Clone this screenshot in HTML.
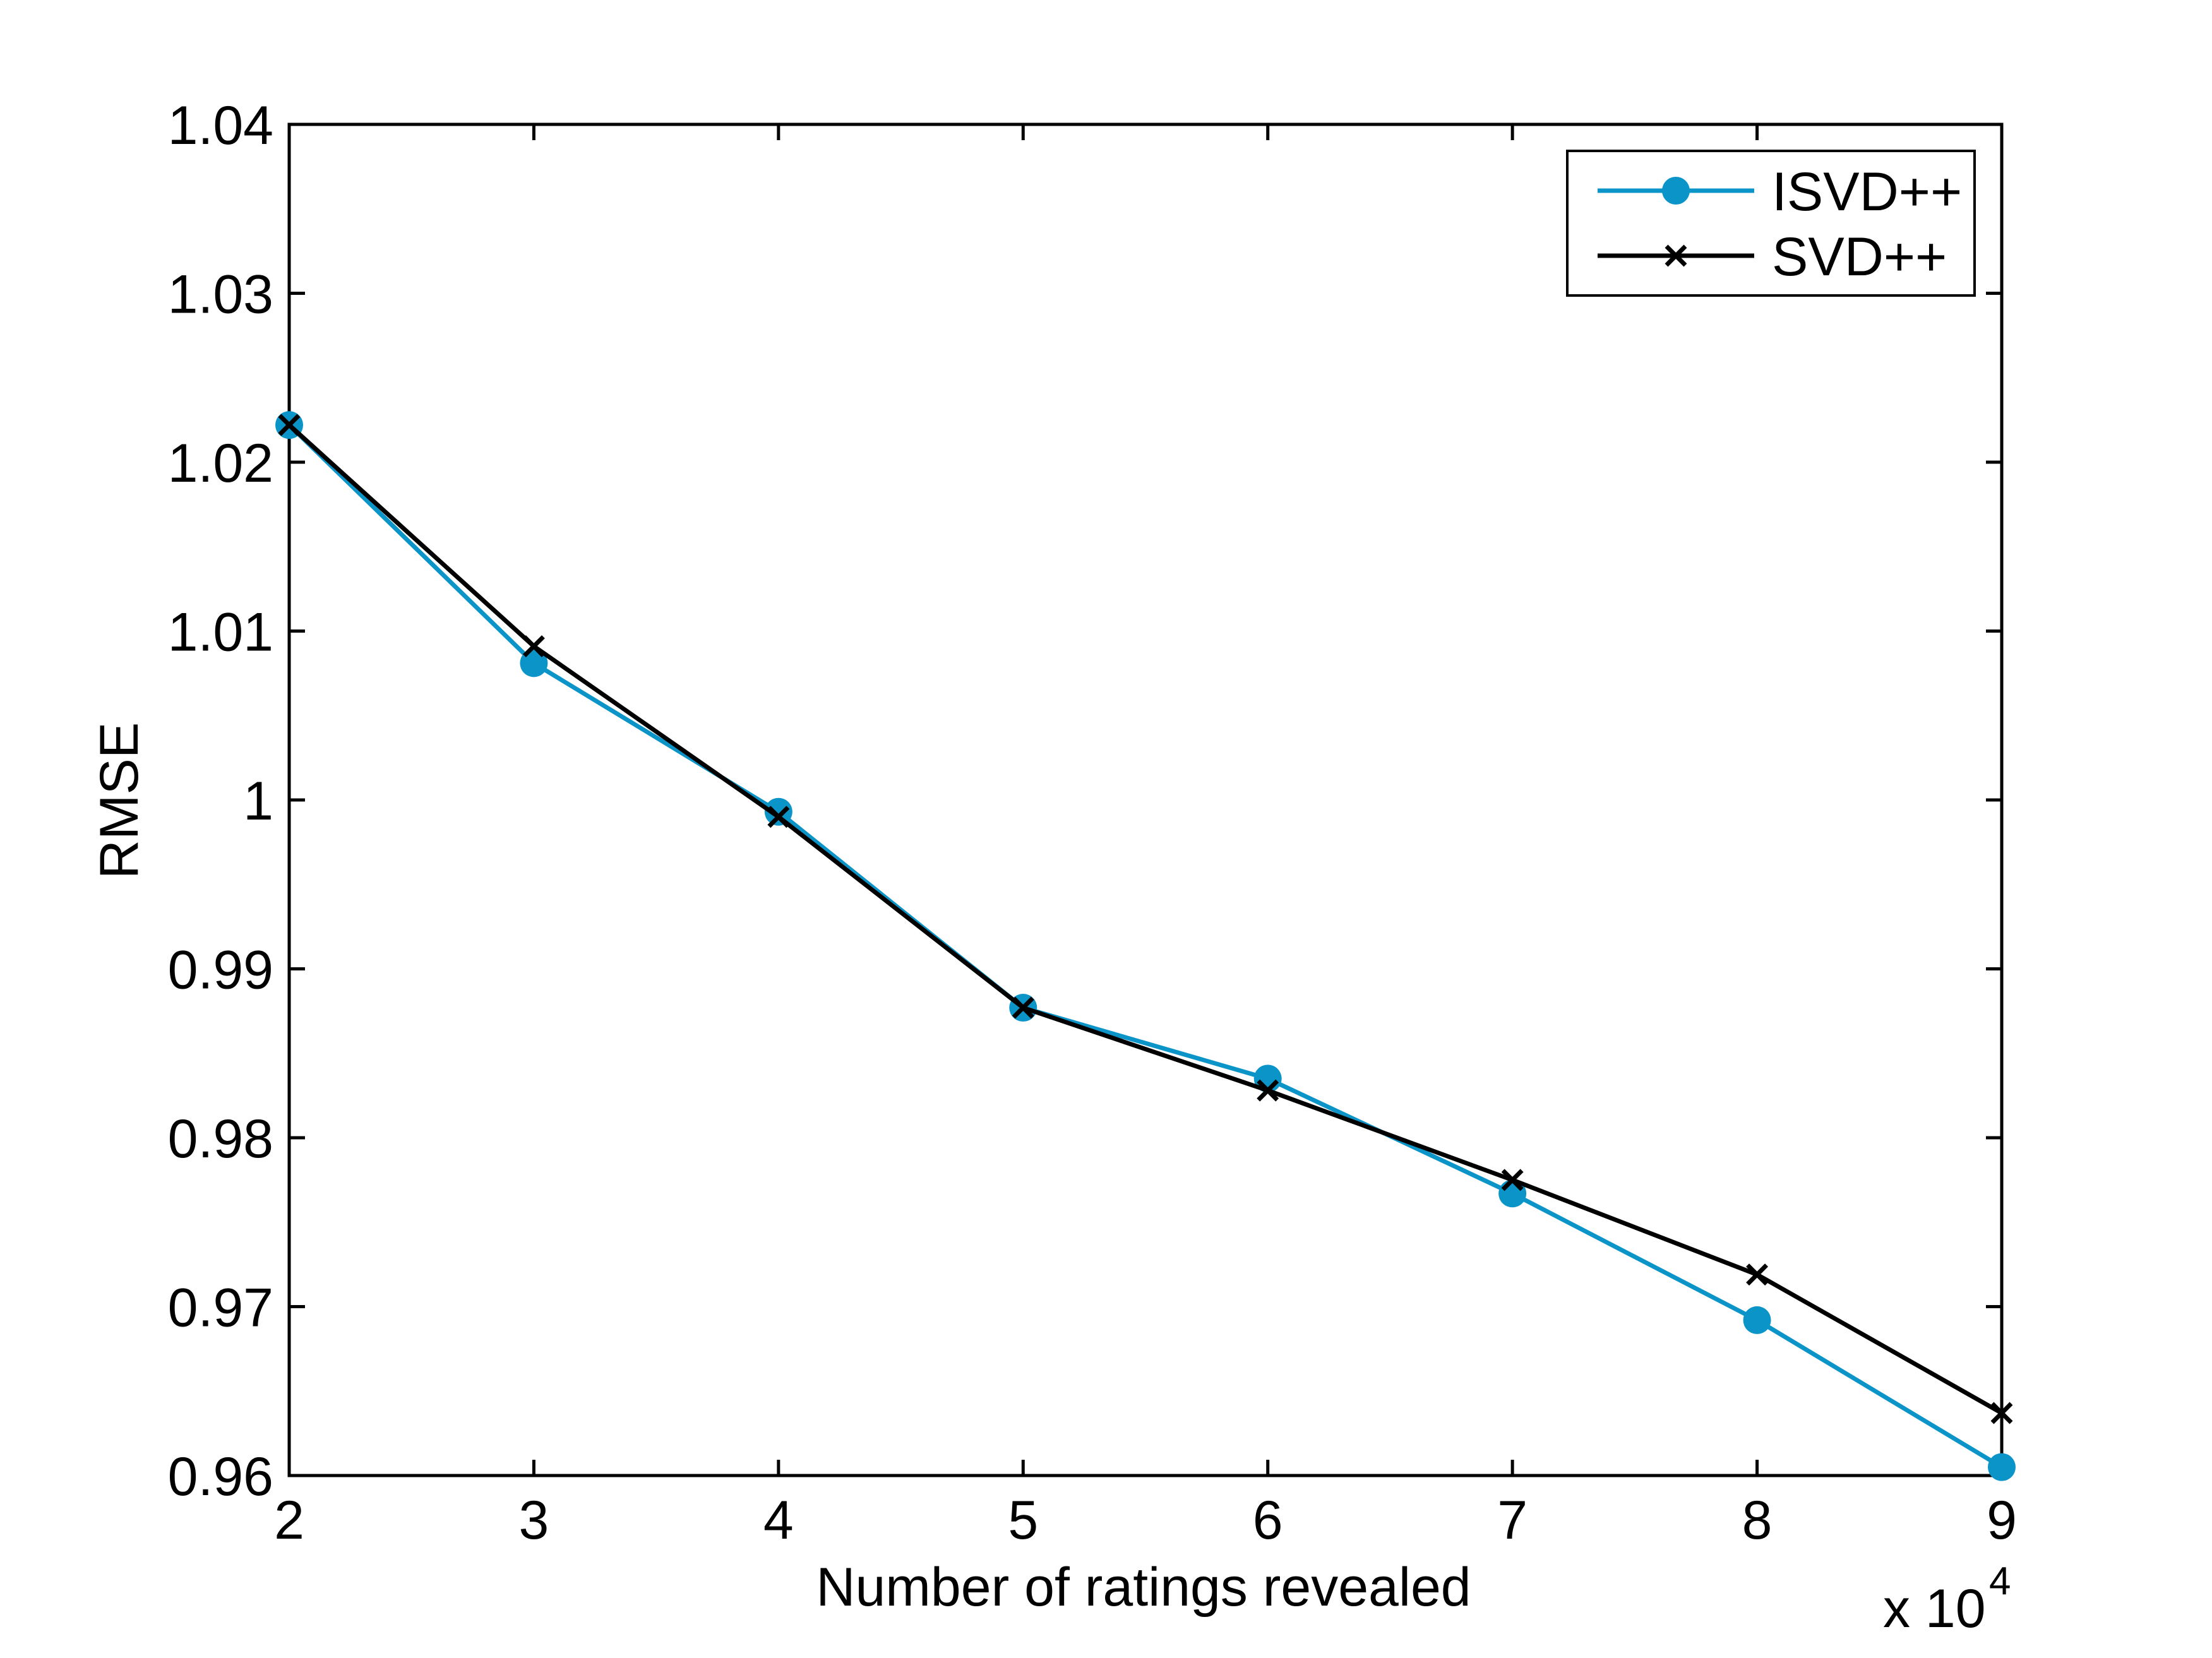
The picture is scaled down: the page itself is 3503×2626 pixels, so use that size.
<!DOCTYPE html>
<html><head><meta charset="utf-8"><style>
html,body{margin:0;padding:0;background:#fff;}
svg{display:block;font-family:"Liberation Sans",Arial,sans-serif;}
</style></head><body>
<svg id="chart" width="3503" height="2626" viewBox="0 0 3503 2626" xmlns="http://www.w3.org/2000/svg">
<rect width="3503" height="2626" fill="#fff"/>
<g transform="translate(36,0)">
<g id="grid"></g>
<g id="series"></g>
<g id="legend" transform="translate(-24,0)"></g>
</g>
</svg>
<script>
const xValues = [2, 3, 4, 5, 6, 7, 8, 9];
const isvdValues = [1.0222, 1.0081, 0.9993, 0.9877, 0.9835, 0.9767, 0.9692, 0.9605];
const svdValues = [1.0222, 1.0091, 0.9990, 0.9877, 0.9828, 0.9775, 0.9719, 0.9637];
const xTicks = [2, 3, 4, 5, 6, 7, 8, 9];
const yTicks = [0.96, 0.97, 0.98, 0.99, 1.00, 1.01, 1.02, 1.03, 1.04];
const yTickLabels = ["0.96", "0.97", "0.98", "0.99", "1", "1.01", "1.02", "1.03", "1.04"];

const L = 422, R = 3134, T = 197, B = 2337;
const xMin = 2, xMax = 9, yMin = 0.96, yMax = 1.04;
const sx = v => L + (v - xMin) / (xMax - xMin) * (R - L);
const sy = v => B - (v - yMin) / (yMax - yMin) * (B - T);
const NS = "http://www.w3.org/2000/svg";
function mk(tag, attrs, parent, text) {
  const e = document.createElementNS(NS, tag);
  for (const k in attrs) e.setAttribute(k, attrs[k]);
  if (text !== undefined) e.textContent = text;
  parent.appendChild(e);
  return e;
}
const grid = document.getElementById('grid');
const series = document.getElementById('series');
const legend = document.getElementById('legend');
const BLUE = "#0b94c8";
const FS = 86;

const box = mk('rect', {x: L, y: T, width: R - L, height: B - T, fill: 'none', stroke: '#000', 'stroke-width': 5}, grid);



yTicks.forEach((v, i) => {
  const y = sy(v);
  const t1 = mk('line', {x1: L, y1: y, x2: L + 25, y2: y, stroke: '#000', 'stroke-width': 5}, grid);
  
  
  const t2 = mk('line', {x1: R, y1: y, x2: R - 25, y2: y, stroke: '#000', 'stroke-width': 5}, grid);
  
  
  const lb = mk('text', {x: L - 25, y: y + 31, 'text-anchor': 'end', 'font-size': FS, fill: '#000'}, grid, yTickLabels[i]);
  
  
});
xTicks.forEach(v => {
  const x = sx(v);
  const t1 = mk('line', {x1: x, y1: B, x2: x, y2: B - 25, stroke: '#000', 'stroke-width': 5}, grid);
  
  
  const t2 = mk('line', {x1: x, y1: T, x2: x, y2: T + 25, stroke: '#000', 'stroke-width': 5}, grid);
  
  
  const lb = mk('text', {x: x, y: 2437, 'text-anchor': 'middle', 'font-size': FS, fill: '#000'}, grid, String(v));
  
  
});

const xt = mk('text', {x: 1775, y: 2543, 'text-anchor': 'middle', 'font-size': FS, fill: '#000'}, grid, 'Number of ratings revealed');


const yt = mk('text', {x: 0, y: 0, 'text-anchor': 'middle', 'font-size': FS, fill: '#000', transform: 'translate(182,1268) rotate(-90)'}, grid, 'RMSE');


const ex = mk('text', {x: 2946, y: 2577, 'font-size': FS, fill: '#000'}, grid, 'x 10');


const ex4 = mk('text', {x: 3114, y: 2525, 'font-size': 62, fill: '#000'}, grid, '4');



const pI = xValues.map((x, i) => sx(x) + ',' + sy(isvdValues[i])).join(' ');
const lineI = mk('polyline', {points: pI, fill: 'none', stroke: BLUE, 'stroke-width': 7}, series);


xValues.forEach((x, i) => {
  const c = mk('circle', {cx: sx(x), cy: sy(isvdValues[i]), r: 22, fill: BLUE}, series);
  
  
});
const pS = xValues.map((x, i) => sx(x) + ',' + sy(svdValues[i])).join(' ');
const lineS = mk('polyline', {points: pS, fill: 'none', stroke: '#000', 'stroke-width': 7}, series);


function cross(cx, cy, parent, name) {
  const d = 15;
  const p = mk('path', {d: `M${cx-d},${cy-d}L${cx+d},${cy+d}M${cx-d},${cy+d}L${cx+d},${cy-d}`, stroke: '#000', 'stroke-width': 7, fill: 'none'}, parent);
  
  
}
xValues.forEach((x, i) => cross(sx(x), sy(svdValues[i]), series, 'svd-point'));

const lb = mk('rect', {x: 2470, y: 239, width: 645, height: 229, fill: '#fff', stroke: '#000', 'stroke-width': 4}, legend);


const l1 = mk('line', {x1: 2518, y1: 302, x2: 2766, y2: 302, stroke: BLUE, 'stroke-width': 7}, legend);


const c1 = mk('circle', {cx: 2642, cy: 302, r: 22, fill: BLUE}, legend);


const tx1 = mk('text', {x: 2794, y: 333, 'font-size': FS, fill: '#000'}, legend, 'ISVD++');


const l2 = mk('line', {x1: 2518, y1: 405, x2: 2766, y2: 405, stroke: '#000', 'stroke-width': 7}, legend);


cross(2642, 405, legend, 'legend-svd-marker');
const tx2 = mk('text', {x: 2794, y: 436, 'font-size': FS, fill: '#000'}, legend, 'SVD++');


</script>
</body></html>
